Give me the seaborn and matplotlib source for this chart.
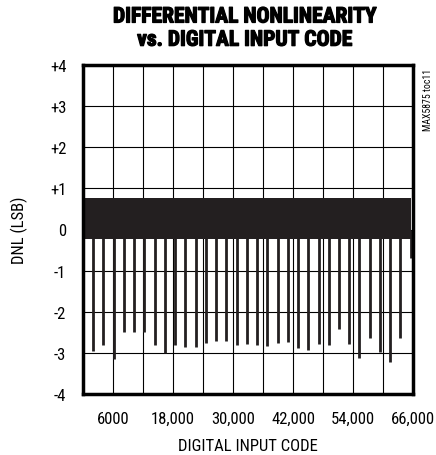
import numpy as np
import pandas as pd
import matplotlib
matplotlib.use("Agg")
import matplotlib.pyplot as plt
import matplotlib.patheffects as pe
import seaborn as sns

# data
BAND_CODES = [0, 65535]          # dense DNL band spans the whole code range
BAND_LOW = -0.22
BAND_HIGH = 0.77

# big negative DNL glitches (major carry transitions)
SPIKE_CODES = [2048, 4096, 6144, 8192, 10240, 12288, 14336, 16384,
               18432, 20480, 22528, 24576, 26624, 28672, 30720, 32768,
               34816, 36864, 38912, 40960, 43008, 45056, 47104, 49152,
               51200, 53248, 55296, 57344, 59392, 61440, 63488]
SPIKE_DNL = [-2.95, -2.80, -3.15, -2.50, -2.50, -2.50, -2.80, -3.00,
             -2.80, -2.85, -2.85, -2.75, -2.70, -2.70, -2.80, -2.78,
             -2.80, -2.84, -2.76, -2.73, -2.89, -2.94, -2.78, -2.80,
             -2.41, -2.78, -3.12, -2.63, -2.98, -3.23, -2.63]

END_CODE = 65535
END_DNL = -0.70

X_TICKS = [0, 6000, 12000, 18000, 24000, 30000, 36000, 42000, 48000, 54000, 60000, 66000]
X_LABELS = ["", "6000", "", "18,000", "", "30,000", "", "42,000", "", "54,000", "", "66,000"]
Y_TICKS = [-4, -3, -2, -1, 0, 1, 2, 3, 4]
Y_LABELS = ["-4", "-3", "-2", "-1", "0", "+1", "+2", "+3", "+4"]

INK = "#231f20"

sns.set_theme(style="white")
plt.rcParams["font.family"] = ["Roboto Condensed", "DejaVu Sans"]

spikes = pd.DataFrame({"code": SPIKE_CODES, "dnl": SPIKE_DNL})

fig = plt.figure(figsize=(4.36, 4.56), dpi=100)
ax = fig.add_axes([83 / 436, 1 - 395 / 456, 330 / 436, 329 / 456])

ax.set_xlim(0, 66000)
ax.set_ylim(-4, 4)
ax.set_xticks(X_TICKS)
ax.set_xticklabels(X_LABELS)
ax.set_yticks(Y_TICKS)
ax.set_yticklabels(Y_LABELS)
ax.grid(True, color="black", linewidth=0.8, zorder=0)
ax.set_axisbelow(True)

ax.fill_between(BAND_CODES, BAND_LOW, BAND_HIGH, color=INK, linewidth=0, zorder=2)
ax.vlines(spikes["code"], 0, spikes["dnl"], color=INK, linewidth=2.0, zorder=3)
ax.vlines([END_CODE], 0, [END_DNL], color=INK, linewidth=2.0, zorder=3)

for s in ax.spines.values():
    s.set_visible(True)
    s.set_color("black")
    s.set_linewidth(2.5)
    s.set_zorder(5)

ax.tick_params(axis="both", length=0, pad=12, labelsize=12, colors="black")
ax.set_xlabel("DIGITAL INPUT CODE", fontsize=12, color="black", labelpad=9)
ax.set_ylabel("DNL (LSB)", fontsize=12, color="black", labelpad=16)

heavy = [pe.withStroke(linewidth=0.9, foreground="black")]
fig.text(245 / 436, 1 - 17.5 / 456, "DIFFERENTIAL NONLINEARITY", ha="center", va="center",
         fontsize=15.5, fontweight="bold", color="black", path_effects=heavy)
fig.text(245 / 436, 1 - 40.7 / 456, "vs. DIGITAL INPUT CODE", ha="center", va="center",
         fontsize=15.5, fontweight="bold", color="black", path_effects=heavy)
fig.text(428 / 436, 1 - 100 / 456, "MAX5875 toc11", rotation=90, ha="center", va="center",
         fontsize=7, color="black")

fig.savefig("out.png", dpi=100)
